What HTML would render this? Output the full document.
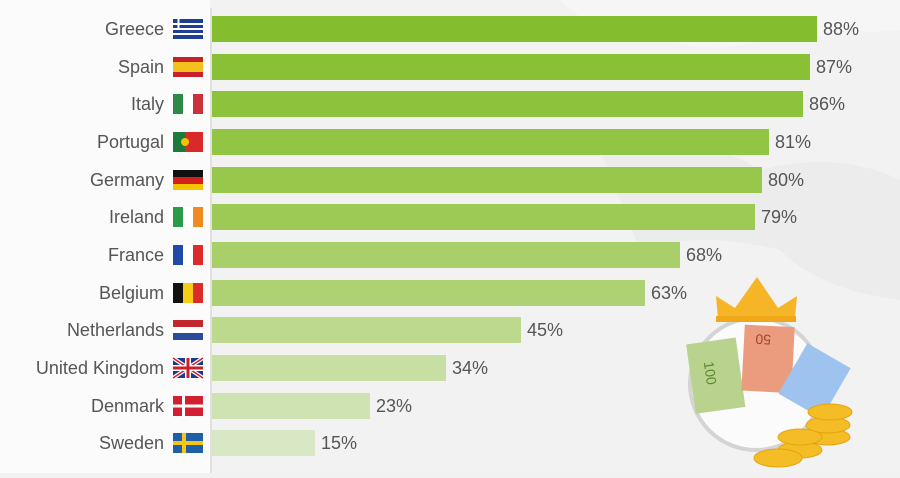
<!DOCTYPE html>
<html><head><meta charset="utf-8"><style>
body{margin:0;width:900px;height:473px;overflow:hidden;background:#f1f1f1;font-family:"Liberation Sans",sans-serif;}
</style></head><body>
<svg width="900" height="473" xmlns="http://www.w3.org/2000/svg">
<rect width="900" height="473" fill="#f2f2f2"/>
<rect width="210" height="473" fill="#fbfbfb"/>
<path d="M212 0 L560 0 Q600 40 650 30 Q700 60 760 40 L900 30 L900 0Z" fill="#f6f6f6"/>
<path d="M600 150 Q680 120 760 170 Q840 150 900 180 L900 300 Q820 290 780 250 Q700 230 640 250Z" fill="#ececec"/>
<line x1="211" y1="8" x2="211" y2="473" stroke="#cfcfcf" stroke-width="1"/>
<g font-size="18" fill="#555">
<g text-anchor="end">
<text x="164" y="35">Greece</text>
<text x="164" y="73">Spain</text>
<text x="164" y="110">Italy</text>
<text x="164" y="148">Portugal</text>
<text x="164" y="186">Germany</text>
<text x="164" y="223">Ireland</text>
<text x="164" y="261">France</text>
<text x="164" y="299">Belgium</text>
<text x="164" y="336">Netherlands</text>
<text x="164" y="374">United Kingdom</text>
<text x="164" y="412">Denmark</text>
<text x="164" y="449">Sweden</text>
</g>
<rect x="212" y="16" width="605" height="26" fill="#84bd2e"/><text x="823" y="35">88%</text>
<rect x="212" y="54" width="598" height="26" fill="#89c035"/><text x="816" y="73">87%</text>
<rect x="212" y="91" width="591" height="26" fill="#8dc23c"/><text x="809" y="110">86%</text>
<rect x="212" y="129" width="557" height="26" fill="#93c545"/><text x="775" y="148">81%</text>
<rect x="212" y="167" width="550" height="26" fill="#97c74b"/><text x="768" y="186">80%</text>
<rect x="212" y="204" width="543" height="26" fill="#9dca55"/><text x="761" y="223">79%</text>
<rect x="212" y="242" width="468" height="26" fill="#a9cf6a"/><text x="686" y="261">68%</text>
<rect x="212" y="280" width="433" height="26" fill="#aed174"/><text x="651" y="299">63%</text>
<rect x="212" y="317" width="309" height="26" fill="#bcd98e"/><text x="527" y="336">45%</text>
<rect x="212" y="355" width="234" height="26" fill="#c8dfa4"/><text x="452" y="374">34%</text>
<rect x="212" y="393" width="158" height="26" fill="#cfe2b2"/><text x="376" y="412">23%</text>
<rect x="212" y="430" width="103" height="26" fill="#d8e7c4"/><text x="321" y="449">15%</text>
</g>
<g>
<g transform="translate(173,19)"><rect width="30" height="20" fill="#1f3f94"/><g fill="#fff"><rect y="4" width="30" height="2"/><rect y="9" width="30" height="2"/><rect y="14" width="30" height="2"/><rect x="0" y="4" width="11" height="2"/><rect x="4.5" y="0" width="2" height="11"/></g></g>
<g transform="translate(173,57)"><rect width="30" height="20" fill="#c8202b"/><rect y="5" width="30" height="10" fill="#f4c01e"/></g>
<g transform="translate(173,94)"><rect width="10" height="20" fill="#2b8a45"/><rect x="10" width="10" height="20" fill="#fff"/><rect x="20" width="10" height="20" fill="#c9313c"/></g>
<g transform="translate(173,132)"><rect width="12" height="20" fill="#1d7a3a"/><rect x="12" width="18" height="20" fill="#d92a2a"/><circle cx="12" cy="10" r="4" fill="#f2c200"/></g>
<g transform="translate(173,170)"><rect width="30" height="7" fill="#111"/><rect y="7" width="30" height="7" fill="#d41f1f"/><rect y="14" width="30" height="6" fill="#f4c400"/></g>
<g transform="translate(173,207)"><rect width="10" height="20" fill="#2b9a4a"/><rect x="10" width="10" height="20" fill="#fff"/><rect x="20" width="10" height="20" fill="#f08a24"/></g>
<g transform="translate(173,245)"><rect width="10" height="20" fill="#1f4aa8"/><rect x="10" width="10" height="20" fill="#fff"/><rect x="20" width="10" height="20" fill="#dd2b2b"/></g>
<g transform="translate(173,283)"><rect width="10" height="20" fill="#111"/><rect x="10" width="10" height="20" fill="#f5cc17"/><rect x="20" width="10" height="20" fill="#dd2b2b"/></g>
<g transform="translate(173,320)"><rect width="30" height="7" fill="#c1272d"/><rect y="7" width="30" height="6" fill="#fff"/><rect y="13" width="30" height="7" fill="#2a4c9a"/></g>
<g transform="translate(173,358)"><rect width="30" height="20" fill="#1f3a8a"/><path d="M0 0L30 20M30 0L0 20" stroke="#fff" stroke-width="4"/><path d="M0 0L30 20M30 0L0 20" stroke="#c8202b" stroke-width="1.5"/><rect x="12" width="6" height="20" fill="#fff"/><rect y="7" width="30" height="6" fill="#fff"/><rect x="13.5" width="3" height="20" fill="#c8202b"/><rect y="8.5" width="30" height="3" fill="#c8202b"/></g>
<g transform="translate(173,396)"><rect width="30" height="20" fill="#d32030"/><rect x="9" width="3" height="20" fill="#fff"/><rect y="8.5" width="30" height="3" fill="#fff"/></g>
<g transform="translate(173,433)"><rect width="30" height="20" fill="#1f5fa8"/><rect x="9" width="4" height="20" fill="#f5c518"/><rect y="8" width="30" height="4" fill="#f5c518"/></g>
</g>
<circle cx="756" cy="384" r="66" fill="#fbfbfb" stroke="#d4d4d4" stroke-width="4"/>
<path d="M718 318 L716 296 L735 308 L757 277 L778 308 L797 296 L795 318Z" fill="#f5b526"/>
<rect x="716" y="316" width="80" height="6" fill="#f0a818"/>
<g transform="rotate(-8 720 370)"><rect x="690" y="340" width="50" height="70" fill="#b9d38e"/><text x="705" y="360" font-size="14" fill="#5a8a2a" transform="rotate(90 705 360)">100</text></g>
<g transform="rotate(3 770 360)"><rect x="743" y="326" width="50" height="66" fill="#ec9c7e"/><text x="760" y="335" font-size="14" fill="#a0462a" transform="rotate(180 760 335) translate(-10 0)">50</text></g>
<g transform="rotate(30 815 380)"><rect x="790" y="352" width="50" height="58" fill="#9ec3ee"/></g>
<g fill="#f4bd25" stroke="#e3a514" stroke-width="1">
<ellipse cx="828" cy="437" rx="22" ry="8"/><ellipse cx="828" cy="425" rx="22" ry="8"/><ellipse cx="830" cy="412" rx="22" ry="8"/>
<ellipse cx="800" cy="450" rx="22" ry="8"/><ellipse cx="800" cy="437" rx="22" ry="8"/>
<ellipse cx="778" cy="458" rx="24" ry="9"/>
</g>
</svg>
</body></html>
